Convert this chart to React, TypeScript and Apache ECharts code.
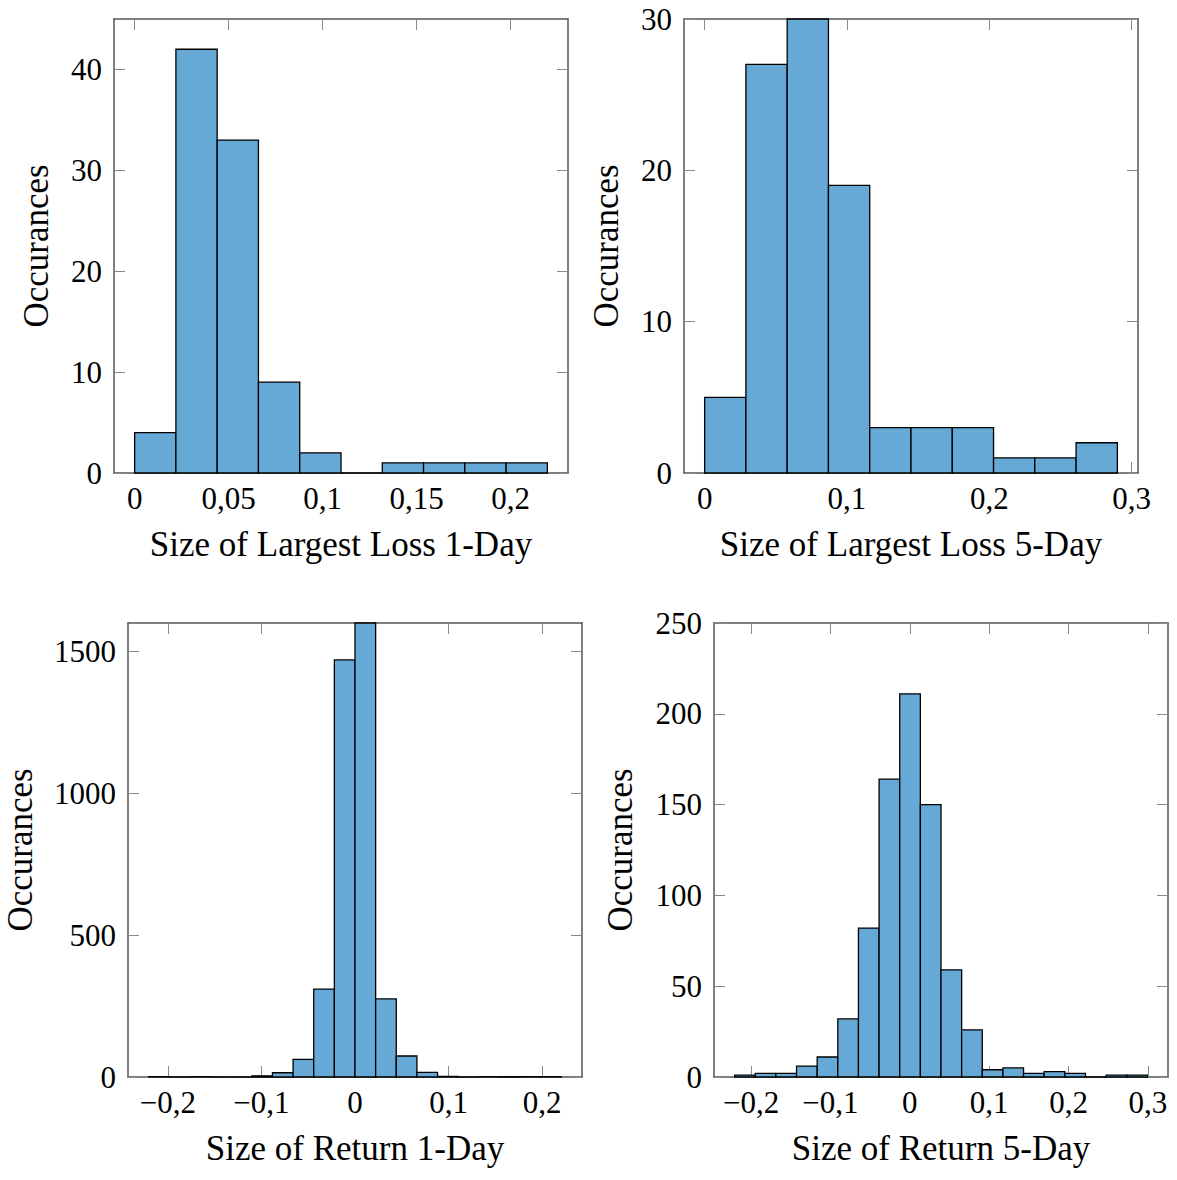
import React, { useEffect, useRef } from "react";
import * as echarts from "echarts";

// ---- Data ----
// Top-left: Size of Largest Loss 1-Day
const loss1Start = 0;
const loss1Width = 0.021955;
const loss1Counts = [4, 42, 33, 9, 2, 0, 1, 1, 1, 1];
const loss1XTicks = [0, 0.05, 0.1, 0.15, 0.2];
const loss1YTicks = [0, 10, 20, 30, 40];

// Top-right: Size of Largest Loss 5-Day
const loss5Start = 0;
const loss5Width = 0.029;
const loss5Counts = [5, 27, 30, 19, 3, 3, 3, 1, 1, 2];
const loss5XTicks = [0, 0.1, 0.2, 0.3];
const loss5YTicks = [0, 10, 20, 30];

// Bottom-left: Size of Return 1-Day
const ret1Start = -0.2205;
const ret1Width = 0.02205;
const ret1Counts = [1, 0, 1, 0, 0, 4, 15, 62, 310, 1470, 1600, 275, 74, 16, 2, 0, 1, 1, 1, 1];
const ret1XTicks = [-0.2, -0.1, 0, 0.1, 0.2];
const ret1YTicks = [0, 500, 1000, 1500];

// Bottom-right: Size of Return 5-Day
const ret5Start = -0.2207;
const ret5Width = 0.026;
const ret5Counts = [1, 2, 2, 6, 11, 32, 82, 164, 211, 150, 59, 26, 4, 5, 2, 3, 2, 0, 1, 1];
const ret5XTicks = [-0.2, -0.1, 0, 0.1, 0.2, 0.3];
const ret5YTicks = [0, 50, 100, 150, 200, 250];

const FONT = "'Liberation Serif', 'Times New Roman', serif";
const BAR_FILL = "#66a9d6";
const AXIS_COLOR = "#555";
const TICK_COLOR = "#8a8a8a";

function binsToData(start: number, width: number, counts: number[]) {
  return counts.map((c, i) => [start + i * width, start + (i + 1) * width, c]);
}

function fmt(v: number) {
  const s = String(+Number(v).toFixed(4));
  return s.replace(".", ",").replace("-", "\u2212");
}

type Panel = {
  left: number;
  top: number;
  size: number;
  xMin: number;
  xMax: number;
  yMax: number;
  xTicks: number[];
  yTicks: number[];
  xName: string;
  yNameGap: number;
  data: number[][];
};

export default function App() {
  const ref = useRef<HTMLDivElement>(null);

  useEffect(() => {
    if (!ref.current) return;
    const chart = echarts.init(ref.current, null, { renderer: "svg" });

    const panels: Panel[] = [
      {
        left: 114, top: 19, size: 454,
        xMin: loss1Start - 0.05 * loss1Width * loss1Counts.length,
        xMax: loss1Start + 1.05 * loss1Width * loss1Counts.length,
        yMax: 45, xTicks: loss1XTicks, yTicks: loss1YTicks,
        xName: "Size of Largest Loss 1-Day", yNameGap: 60,
        data: binsToData(loss1Start, loss1Width, loss1Counts),
      },
      {
        left: 684, top: 19, size: 454,
        xMin: loss5Start - 0.05 * loss5Width * loss5Counts.length,
        xMax: loss5Start + 1.05 * loss5Width * loss5Counts.length,
        yMax: 30, xTicks: loss5XTicks, yTicks: loss5YTicks,
        xName: "Size of Largest Loss 5-Day", yNameGap: 60,
        data: binsToData(loss5Start, loss5Width, loss5Counts),
      },
      {
        left: 128, top: 623, size: 454,
        xMin: ret1Start - 0.05 * ret1Width * ret1Counts.length,
        xMax: ret1Start + 1.05 * ret1Width * ret1Counts.length,
        yMax: 1600, xTicks: ret1XTicks, yTicks: ret1YTicks,
        xName: "Size of Return 1-Day", yNameGap: 90,
        data: binsToData(ret1Start, ret1Width, ret1Counts),
      },
      {
        left: 714, top: 623, size: 454,
        xMin: ret5Start - 0.05 * ret5Width * ret5Counts.length,
        xMax: ret5Start + 1.05 * ret5Width * ret5Counts.length,
        yMax: 250, xTicks: ret5XTicks, yTicks: ret5YTicks,
        xName: "Size of Return 5-Day", yNameGap: 76,
        data: binsToData(ret5Start, ret5Width, ret5Counts),
      },
    ];

    const grid: any[] = [];
    const xAxis: any[] = [];
    const yAxis: any[] = [];
    const series: any[] = [];

    const lineStyle = { color: AXIS_COLOR, width: 1.5 };
    const tickBase = { show: true, inside: true, length: 11, lineStyle: { color: TICK_COLOR, width: 1 } };

    panels.forEach((p, i) => {
      grid.push({
        left: p.left, top: p.top, width: p.size, height: p.size,
        containLabel: false, outerBoundsMode: "none",
      });
      const xCommon = { type: "value", gridIndex: i, min: p.xMin, max: p.xMax, splitLine: { show: false } };
      const yCommon = { type: "value", gridIndex: i, min: 0, max: p.yMax, splitLine: { show: false } };
      xAxis.push({
        ...xCommon,
        position: "bottom",
        axisLine: { show: true, onZero: false, lineStyle },
        axisTick: { ...tickBase, customValues: p.xTicks },
        axisLabel: {
          show: true, customValues: p.xTicks, formatter: fmt, margin: 10,
          fontFamily: FONT, fontSize: 31, color: "#000",
        },
        name: p.xName, nameLocation: "middle", nameGap: 54,
        nameTextStyle: { fontFamily: FONT, fontSize: 35, color: "#000" },
      });
      xAxis.push({
        ...xCommon,
        position: "top",
        axisLine: { show: true, onZero: false, lineStyle },
        axisTick: { ...tickBase, customValues: p.xTicks },
        axisLabel: { show: false },
      });
      yAxis.push({
        ...yCommon,
        position: "left",
        axisLine: { show: true, onZero: false, lineStyle },
        axisTick: { ...tickBase, customValues: p.yTicks },
        axisLabel: {
          show: true, customValues: p.yTicks, formatter: fmt, margin: 12,
          fontFamily: FONT, fontSize: 31, color: "#000",
        },
        name: "Occurances", nameLocation: "middle", nameRotate: 90, nameGap: p.yNameGap,
        nameTextStyle: { fontFamily: FONT, fontSize: 35, color: "#000" },
      });
      yAxis.push({
        ...yCommon,
        position: "right",
        axisLine: { show: true, onZero: false, lineStyle },
        axisTick: { ...tickBase, customValues: p.yTicks },
        axisLabel: { show: false },
      });
      series.push({
        type: "custom",
        xAxisIndex: 2 * i,
        yAxisIndex: 2 * i,
        encode: { x: [0, 1], y: 2 },
        data: p.data,
        clip: false,
        renderItem: (params: any, api: any) => {
          const x0 = api.value(0);
          const x1 = api.value(1);
          const y = api.value(2);
          const a = api.coord([x0, 0]);
          const b = api.coord([x1, y]);
          return {
            type: "rect",
            shape: { x: a[0], y: b[1], width: b[0] - a[0], height: a[1] - b[1] },
            style: { fill: BAR_FILL, stroke: "#000", lineWidth: 1.3 },
          };
        },
      });
    });

    chart.setOption({
      animation: false,
      backgroundColor: "#fff",
      textStyle: { fontFamily: FONT },
      grid,
      xAxis,
      yAxis,
      series,
    });

    return () => chart.dispose();
  }, []);

  return (
    <div
      ref={ref}
      style={{ position: "absolute", left: 0, top: 0, width: 1177, height: 1180 }}
    />
  );
}
